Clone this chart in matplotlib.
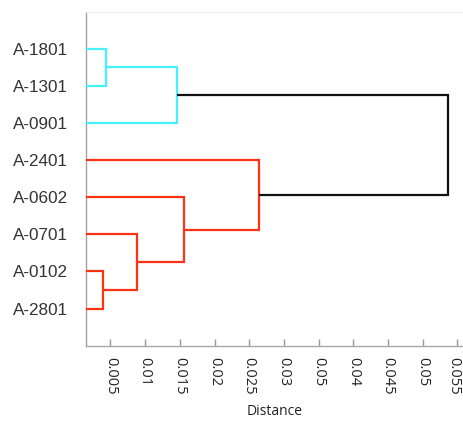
import matplotlib
matplotlib.use("Agg")
import matplotlib.pyplot as plt
from matplotlib.transforms import ScaledTranslation

# ---- data ----
leaf_labels = ['A-1801', 'A-1301', 'A-0901', 'A-2401', 'A-0602', 'A-0701', 'A-0102', 'A-2801']
# merges: (child_a, child_b, height); ids >= 8 refer to earlier merges
merge_a = [0, 8, 6, 5, 4, 3, 9]
merge_b = [1, 2, 7, 10, 11, 12, 13]
merge_height = [0.00432, 0.01462, 0.00399, 0.0088, 0.01553, 0.02639, 0.0537]
merge_color = ['#45f0ff', '#45f0ff', '#ff3214', '#ff3214', '#ff3214', '#ff3214', '#111111']
tick_values = [0.005, 0.01, 0.015, 0.02, 0.025, 0.03, 0.035, 0.04, 0.045, 0.05, 0.055]
tick_labels = ['0.005', '0.01', '0.015', '0.02', '0.025', '0.03', '0.05', '0.04', '0.045', '0.05', '0.055']
x_min, x_max = 0.00147, 0.05582

fig = plt.figure(figsize=(4.63, 4.22), dpi=100)
ax = fig.add_axes([86 / 463, (422 - 345.7) / 422, (463 - 86) / 463, (345.7 - 11.7) / 422])

n = len(leaf_labels)
pos = {i: float(i) for i in range(n)}
hgt = {i: x_min for i in range(n)}
lw = 1.6
for k, (a, b, h, c) in enumerate(zip(merge_a, merge_b, merge_height, merge_color)):
    ya, yb = pos[a], pos[b]
    ax.plot([hgt[a], h, h, hgt[b]], [ya, ya, yb, yb], color=c, lw=lw,
            solid_joinstyle='miter', solid_capstyle='butt', zorder=3)
    pos[n + k] = (ya + yb) / 2
    hgt[n + k] = h

ax.set_xlim(x_min, x_max)
ax.set_ylim(n, -1)
ax.set_yticks(range(n))
ax.set_yticklabels(leaf_labels, fontfamily='Liberation Sans', fontsize=12.3, color='#333333')
ax.tick_params(axis='y', length=0, pad=13)

ax.set_xticks(tick_values)
xt = ax.set_xticklabels(tick_labels, rotation=-90, fontfamily='Open Sans', fontsize=10.5, color='#222222')
ax.tick_params(axis='x', direction='in', length=5, width=1, color='#999999', pad=8)
ax.set_xlabel('Distance', fontfamily='Open Sans', fontsize=10, color='#222222', labelpad=7)
last = xt[-1]
last.set_transform(last.get_transform() + ScaledTranslation(-4 / 100, 0, fig.dpi_scale_trans))

ax.spines['left'].set_color('#a0a0a0')
ax.spines['bottom'].set_color('#a8a8a8')
ax.spines['top'].set_color('#f0f0f0')
ax.spines['right'].set_visible(False)
for s in ax.spines.values():
    s.set_linewidth(1.0)

fig.savefig('out.png', dpi=100)
